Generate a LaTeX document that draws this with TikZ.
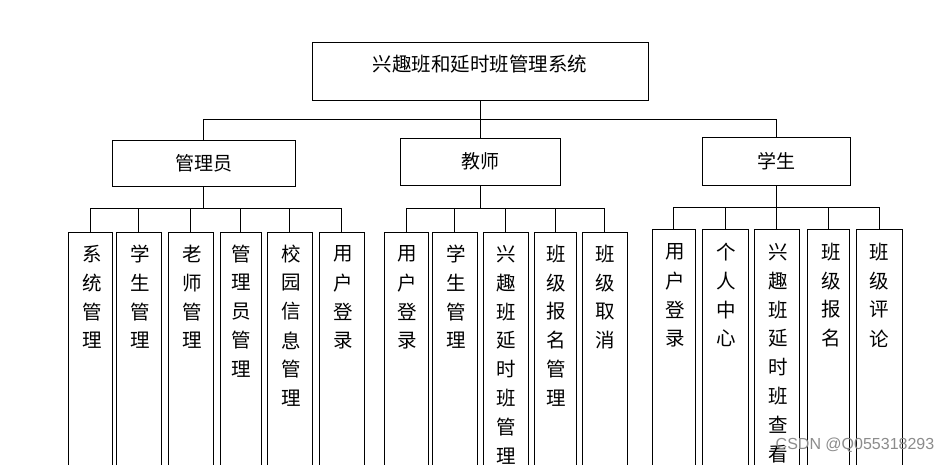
\documentclass[tikz,border=0pt]{standalone}
\usepackage{fontspec}
\newfontfamily\cjk{Noto Sans CJK SC}
\newfontfamily\wmfont{Liberation Sans}
\tikzset{
  box/.style={draw=black, line width=0.9pt, rectangle, inner sep=0pt},
  leafbox/.style={box, anchor=north, minimum height=300},
  ch/.style={inner sep=0pt, font=\cjk\fontsize{19.5}{19.5}\selectfont},
  conn/.style={draw=black, line width=0.9pt}
}
\newcommand\vlabel[4]{% name, x, first y, chars
  \foreach \c [count=\i] in {#4} {
    \node[ch] (#1-\i) at (#2, {#3+28.9*(\i-1)}) {\c};
  }
}
\begin{document}
\begin{tikzpicture}[x=1pt, y=-1pt]
\useasboundingbox (0,0) rectangle (950,464);
\clip (0,0) rectangle (950,464);
\fill[white] (0,0) rectangle (950,464);

% root
\node[box, minimum width=336, minimum height=58] (root) at (480,71) {};
\node[ch, font=\cjk\fontsize{19.5}{19.5}\selectfont] (roott) at (480,64.3) {兴趣班和延时班管理系统};

% second level
\node[box, minimum width=183, minimum height=46, font=\cjk\fontsize{19}{19}\selectfont] (mgr) at (203.8,163.3) {管理员};
\node[box, minimum width=160, minimum height=47, font=\cjk\fontsize{19}{19}\selectfont] (tch) at (480,161.5) {教师};
\node[box, minimum width=148, minimum height=48, font=\cjk\fontsize{19}{19}\selectfont] (stu) at (776.3,161.3) {学生};

\coordinate (b0) at (480,119.8);
\draw[conn] (root.south) -- (b0);
\draw[conn] (b0) -| (mgr.north);
\draw[conn] (b0) -| (stu.north);
\draw[conn] (b0) -- (tch.north);

% group 1
\node[leafbox, minimum width=44] (g1a) at (90.3,231.7) {};
\node[leafbox, minimum width=45] (g1b) at (138.8,231.7) {};
\node[leafbox, minimum width=45] (g1c) at (190.8,231.7) {};
\node[leafbox, minimum width=41] (g1d) at (240.8,231.7) {};
\node[leafbox, minimum width=45] (g1e) at (289.8,231.7) {};
\node[leafbox, minimum width=45] (g1f) at (341.8,231.7) {};
\coordinate (b1) at (203.8,208.2);
\draw[conn] (mgr.south) -- (b1);
\foreach \n in {g1a,g1b,g1c,g1d,g1e,g1f} \draw[conn] (b1) -| (\n.north);
\vlabel{t1a}{91.8}{253.8}{系,统,管,理}
\vlabel{t1b}{139.8}{253.8}{学,生,管,理}
\vlabel{t1c}{191.8}{253.8}{老,师,管,理}
\vlabel{t1d}{241.3}{253.8}{管,理,员,管,理}
\vlabel{t1e}{290.8}{253.8}{校,园,信,息,管,理}
\vlabel{t1f}{342.8}{253.8}{用,户,登,录}

% group 2
\node[leafbox, minimum width=44] (g2a) at (406.3,231.7) {};
\node[leafbox, minimum width=45] (g2b) at (454.8,231.7) {};
\node[leafbox, minimum width=45] (g2c) at (505.8,231.7) {};
\node[leafbox, minimum width=42] (g2d) at (555.3,231.7) {};
\node[leafbox, minimum width=45] (g2e) at (604.8,231.7) {};
\coordinate (b2) at (480,208.3);
\draw[conn] (tch.south) -- (b2);
\foreach \n in {g2a,g2b,g2c,g2d,g2e} \draw[conn] (b2) -| (\n.north);
\vlabel{t2a}{407.3}{253.8}{用,户,登,录}
\vlabel{t2b}{455.8}{253.8}{学,生,管,理}
\vlabel{t2c}{506.3}{253.8}{兴,趣,班,延,时,班,管,理}
\vlabel{t2d}{556.3}{253.8}{班,级,报,名,管,理}
\vlabel{t2e}{605.3}{253.8}{班,级,取,消}

% group 3
\node[leafbox, minimum width=43] (g3a) at (673.8,229.3) {};
\node[leafbox, minimum width=46.4] (g3b) at (725.5,229.3) {};
\node[leafbox, minimum width=45] (g3c) at (776.8,229.3) {};
\node[leafbox, minimum width=42] (g3d) at (828.3,229.3) {};
\node[leafbox, minimum width=45.6] (g3e) at (879.5,229.3) {};
\coordinate (b3) at (776.3,207.3);
\draw[conn] (stu.south) -- (b3);
\foreach \n in {g3a,g3b,g3c,g3d,g3e} \draw[conn] (b3) -| (\n.north);
\vlabel{t3a}{675.3}{251.8}{用,户,登,录}
\vlabel{t3b}{726.3}{251.8}{个,人,中,心}
\vlabel{t3c}{778.3}{251.8}{兴,趣,班,延,时,班,查,看}
\vlabel{t3d}{831.3}{251.8}{班,级,报,名}
\vlabel{t3e}{879.3}{251.8}{班,级,评,论}

% watermark
\node[inner sep=0pt, text=black!45, font=\wmfont\fontsize{16}{16}\selectfont] (wm) at (855,445.7) {CSDN @Q055318293};
\end{tikzpicture}
\end{document}
